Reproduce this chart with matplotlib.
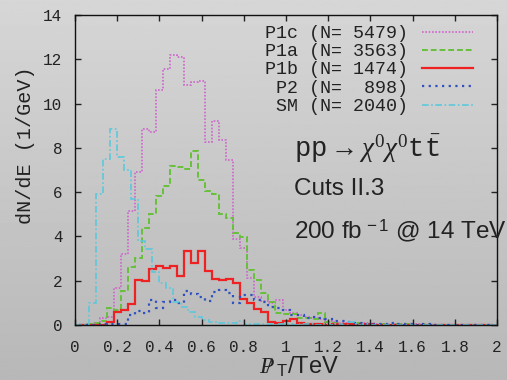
import numpy as np
import matplotlib
matplotlib.use("Agg")
import matplotlib.pyplot as plt
from matplotlib.mathtext import MathTextParser

plt.rcParams['mathtext.fontset'] = 'custom'
plt.rcParams['mathtext.rm'] = 'Liberation Serif'
plt.rcParams['mathtext.it'] = 'Liberation Serif:italic'
plt.rcParams['mathtext.tt'] = 'Liberation Mono'
plt.rcParams['mathtext.sf'] = 'Liberation Sans'

# histogram contents dN/dE (1/GeV), 1/30 TeV bins
# signal samples: bins start at 0.5/30 TeV
p1c = [0, 0, 0.1, 0.3, 0.35, 1.66, 3.19, 5.16, 6.9, 8.84, 8.7, 10.6, 11.55, 12.2, 12.1,
       10.85, 10.96, 11.03, 8.28, 9.23, 8.36, 7.45, 3.9, 3.46, 2.14, 1.28, 1.1, 1.0, 1.15,
       0.7, 0.55, 0.45, 0.35, 0.3, 0.25, 0.2, 0.15, 0.1, 0.1, 0.05, 0.1, 0.05, 0.05, 0.05,
       0.0, 0.05, 0.05, 0.0, 0.05]
p1a = [0, 0.05, 0.1, 0.2, 0.75, 0.68, 1.55, 2.63, 3.04, 4.37, 5.0, 5.83, 6.29, 7.18, 7.15,
       7.05, 7.87, 6.55, 6.05, 5.9, 5.0, 4.85, 4.14, 3.99, 2.48, 2.03, 1.43, 1.05, 0.53,
       0.5, 0.5, 0.3, 0.3, 0.25, 0.53, 0.15, 0.1, 0.05, 0.1, 0.1, 0.05, 0.05, 0.0, 0.05,
       0.0, 0.05, 0.05, 0.0, 0.0, 0.05]
p1b = [0, 0, 0, 0, 0.15, 0.57, 0.68, 0.93, 2.03, 2.0, 2.53, 2.66, 2.59, 2.68, 2.21,
       3.36, 2.81, 3.34, 2.45, 2.1, 2.05, 2.08, 1.88, 1.17, 1.0, 0.73, 0.6, 0.15, 0.1,
       0.2, 0.28, 0.1, 0.05, 0.05, 0.05, 0.0, 0.05, 0.05, 0.05, 0.0, 0.05, 0.05]
p2 = [0, 0, 0, 0.03, 0.05, 0.05, 0.05, 0.45, 0.65, 0.53, 1.13, 0.75, 1.05, 1.13, 1.0,
      1.55, 1.4, 1.28, 1.1, 1.5, 1.58, 1.43, 0.98, 1.35, 1.35, 1.13, 1.05, 0.83, 0.75,
      0.68, 0.45, 0.45, 0.3, 0.35, 0.3, 0.25, 0.2, 0.2, 0.15, 0.1, 0.1, 0.05, 0.05,
      0.05, 0.1, 0.05, 0.05, 0.05, 0.0, 0.05]
# SM background: bins start at 0
sm = [0, 0, 1.0, 5.9, 7.5, 8.84, 7.6, 7.0, 5.7, 3.8, 3.45, 2.41, 1.88, 1.66, 1.05,
      0.83, 0.6, 0.38, 0.23, 0.15, 0.1, 0.08, 0.08, 0.2, 0.05, 0.05, 0.05, 0.05, 0.0,
      0.05, 0.05, 0.0, 0.05, 0.05, 0.0, 0.05, 0.0, 0.05, 0.0, 0.15, 0.0, 0.05]

labels = ["P1c (N= 5479)", "P1a (N= 3563)", "P1b (N= 1474)", " P2 (N=  898)", " SM (N= 2040)"]
xtick_labels = ['0', '0.2', '0.4', '0.6', '0.8', '1', '1.2', '1.4', '1.6', '1.8', '2']

nbins = 60
sig_edges = (np.arange(nbins) + 0.5) / 30.0
sm_edges = np.arange(nbins + 1) / 30.0


def pad(v, n):
    return np.pad(np.array(v, dtype=float), (0, n - len(v)))


fig = plt.figure(figsize=(5.07, 3.80), dpi=100)

# grey gradient background
bg = fig.add_axes([0, 0, 1, 1], zorder=-1)
grad = np.linspace(0.84, 0.72, 256).reshape(-1, 1)
bg.imshow(grad, cmap='gray', vmin=0, vmax=1, aspect='auto', extent=[0, 1, 0, 1])
bg.axis('off')

ax = fig.add_axes([0.148, 0.1447, 0.8323, 0.8158])
ax.set_facecolor('none')

mono = 'Liberation Mono'

styles = [
    (p1c, sig_edges, '#cc66cc', (0, (1, 1)), 1.2),
    (p1a, sig_edges, '#66c03a', (0, (3, 1.5)), 1.4),
    (p1b, sig_edges, '#ee2222', '-', 1.6),
    (p2, sig_edges, '#3050c0', (0, (1, 2)), 1.6),
    (sm, sm_edges, '#5cc8dc', (0, (4, 1.5, 1, 1.5)), 1.2),
]
for (vals, edges, col, ls, lw), lab in zip(styles, labels):
    v = pad(vals, len(edges) - 1)
    ax.stairs(v, edges, color=col, linestyle=ls, linewidth=lw, label=lab, baseline=None)

ax.set_xlim(0, 2)
ax.set_ylim(0, 14)
ax.set_xticks(np.arange(0, 2.01, 0.2))
ax.set_xticklabels(xtick_labels)
ax.set_yticks(np.arange(0, 15, 2))
ax.tick_params(direction='in', top=True, right=True, length=4, width=1,
               labelsize=11.5, colors='#222222')
ax.tick_params(axis='x', pad=11)
ax.tick_params(axis='y', pad=9)
for lab in ax.get_xticklabels() + ax.get_yticklabels():
    lab.set_family(mono)
for sp in ax.spines.values():
    sp.set_color('#111111')
    sp.set_linewidth(1)

leg = ax.legend(loc='upper right', bbox_to_anchor=(0.943, 0.968), frameon=False,
                markerfirst=False, handlelength=2.8, handletextpad=0.75,
                labelspacing=0.07, borderpad=0, borderaxespad=0,
                prop={'family': mono, 'size': 13.2})
for t in leg.get_texts():
    t.set_color('#222222')

fig.text(0.05, 0.618, 'dN/dE (1/GeV)', rotation=90, ha='center', va='center',
         family=mono, fontsize=14.5, color='#222222')

# missing-pT label
ptmiss = r'$P\!\!\!/\;{}_{\mathsf{T}}$/TeV'
try:
    MathTextParser('agg').parse(ptmiss, dpi=100)
except Exception:
    ptmiss = r'$\not{P}_{\mathsf{T}}$/TeV'
fig.text(0.59, 0.035, ptmiss, ha='center', va='center',
         family='Liberation Sans', fontsize=17, color='#222222')

ax.text(0.52, 0.57, r'$\mathtt{pp}\rightarrow\chi^0\chi^0\mathtt{t}\bar{\mathtt{t}}$',
        transform=ax.transAxes, fontsize=19.5, color='#222222', va='center')
ax.text(0.52, 0.44, 'Cuts II.3', transform=ax.transAxes, fontsize=17.5,
        family='Liberation Sans', color='#222222', va='center')
ax.text(0.52, 0.305, r'200 fb$^{\mathsf{\,-1}}$ @ 14 TeV', transform=ax.transAxes,
        fontsize=17.5, family='Liberation Sans', color='#222222', va='center',
        clip_on=False)

fig.savefig('out.png', dpi=100)
